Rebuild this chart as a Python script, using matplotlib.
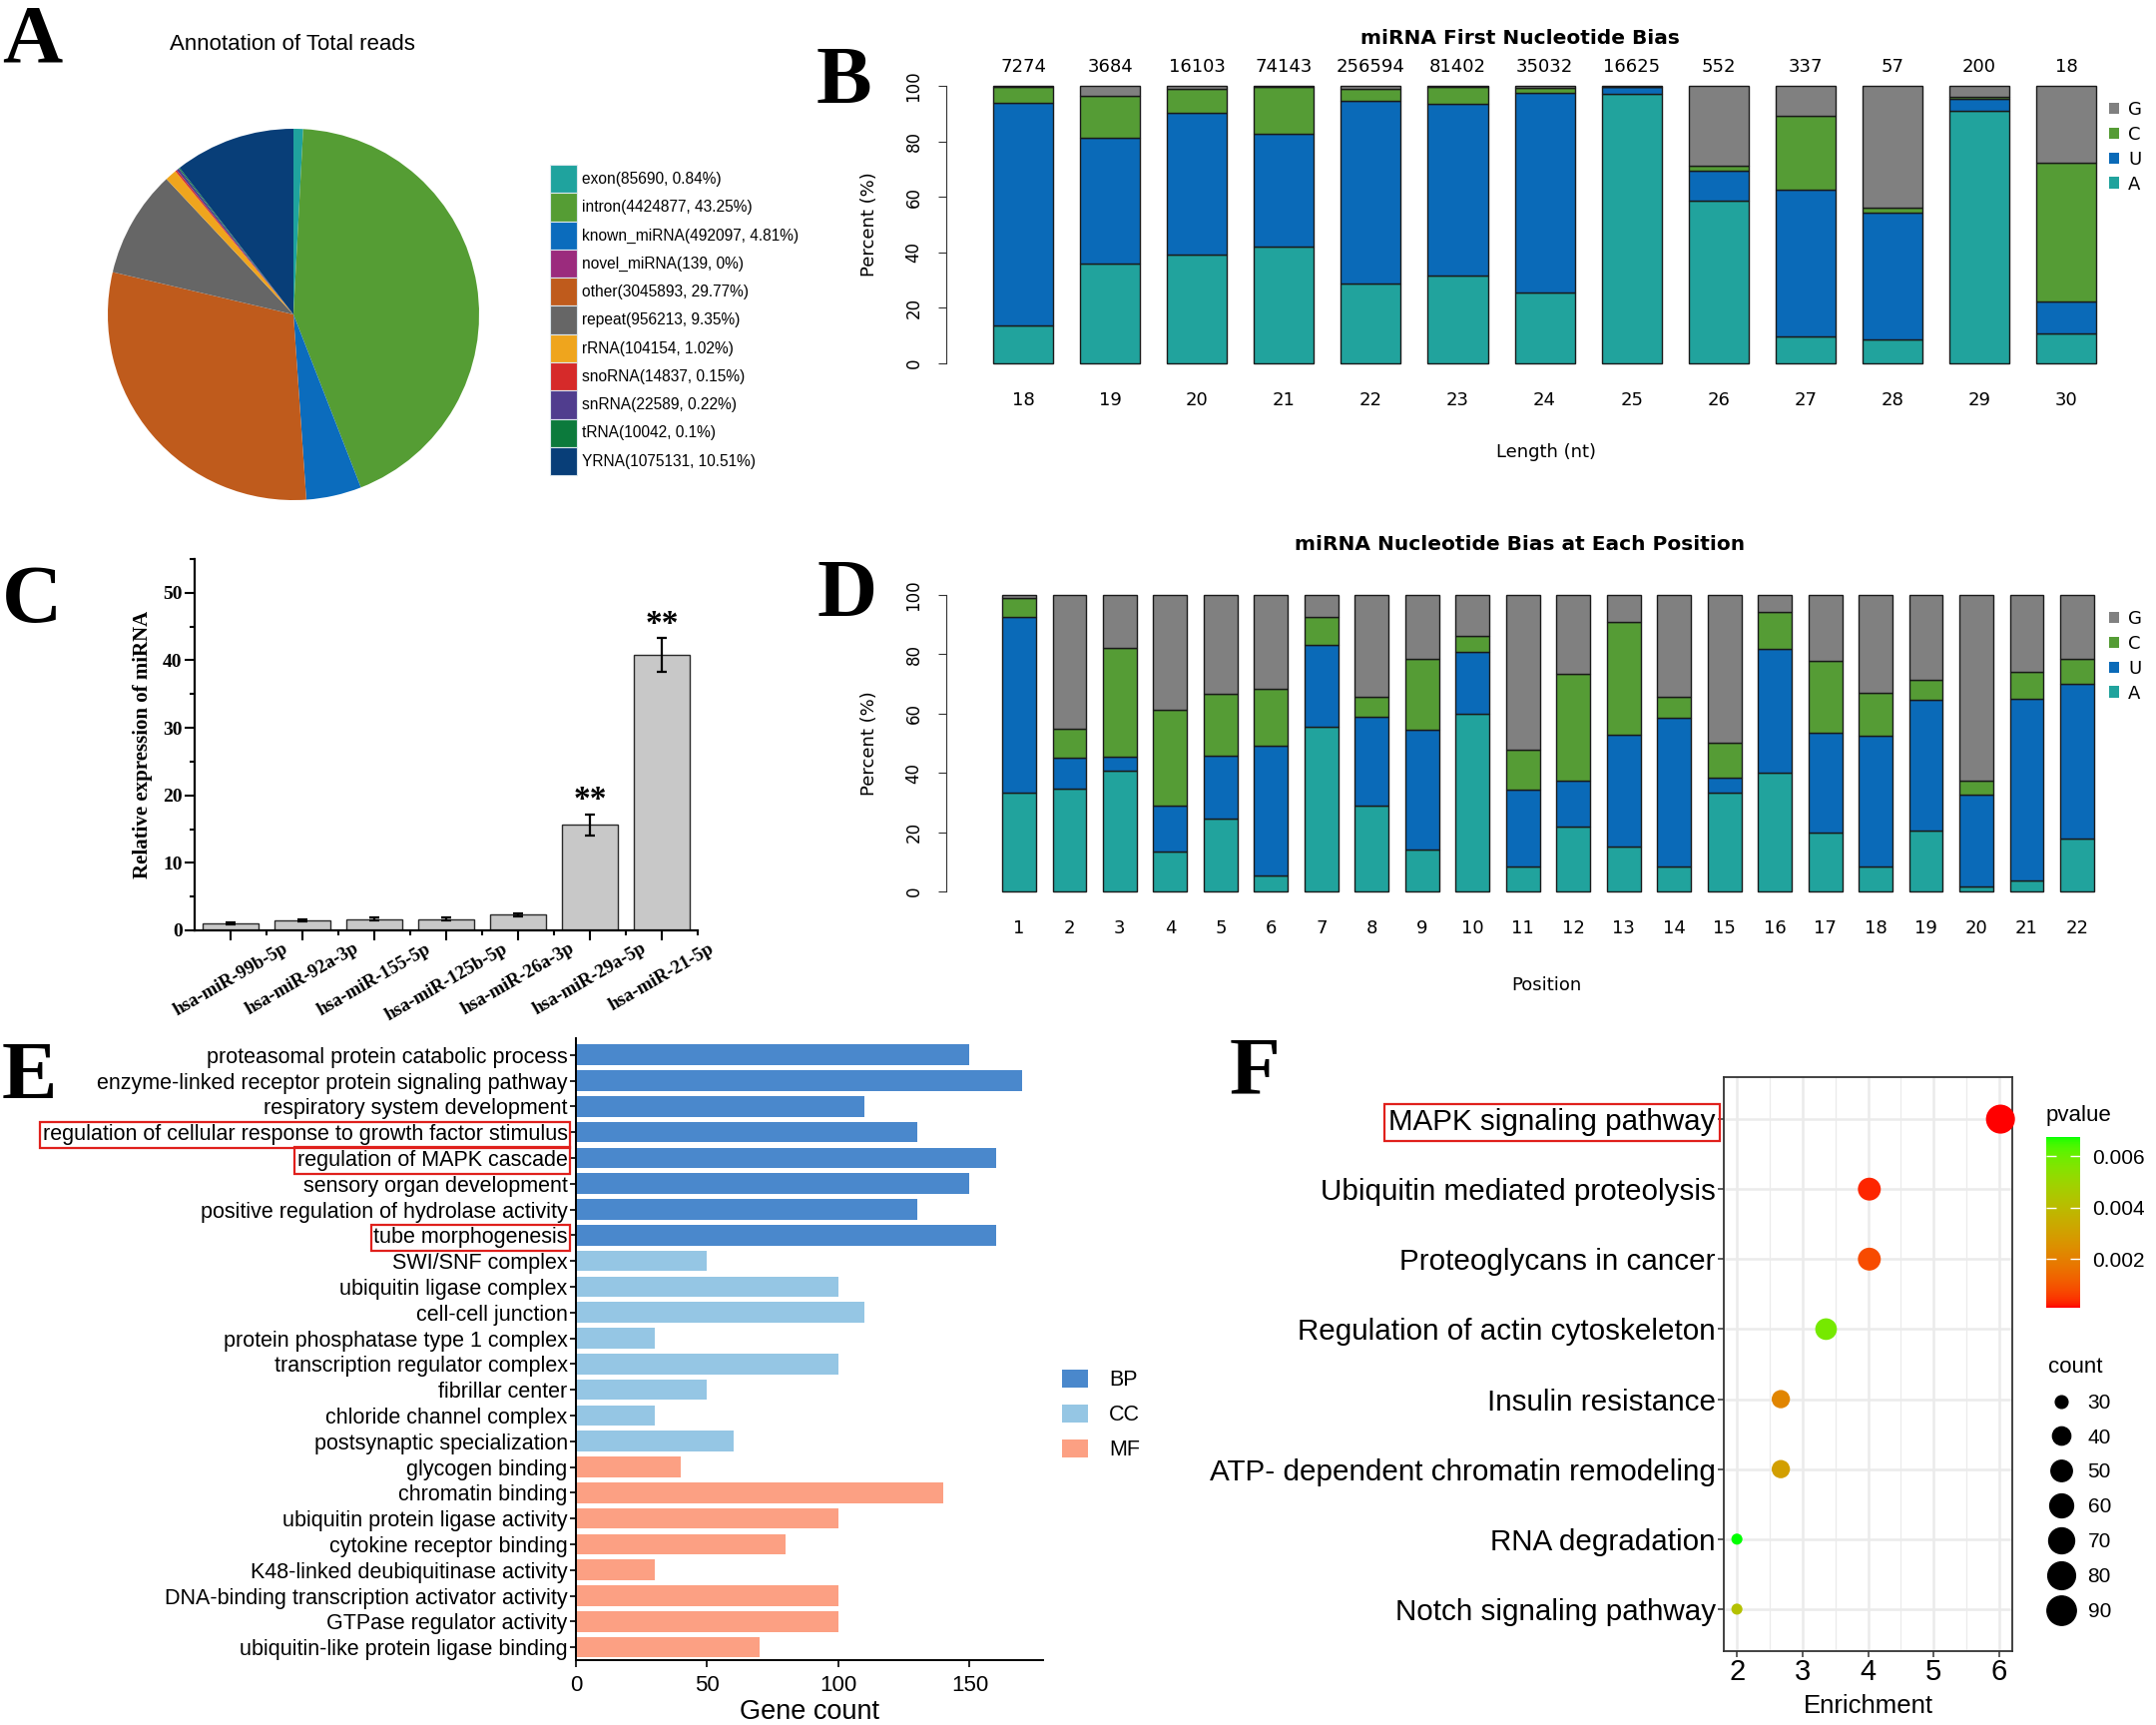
import numpy as np
import matplotlib
matplotlib.use('Agg')
import matplotlib.pyplot as plt
from matplotlib import transforms
from matplotlib.patches import Patch
from matplotlib.lines import Line2D
from matplotlib.colors import ListedColormap
from matplotlib.ticker import MultipleLocator

plt.rcParams['font.family'] = ['Liberation Sans', 'DejaVu Sans']

# ---------------- data ----------------
# Panel A
pie_labels = ['exon', 'intron', 'known_miRNA', 'novel_miRNA', 'other', 'repeat',
              'rRNA', 'snoRNA', 'snRNA', 'tRNA', 'YRNA']
pie_counts = [85690, 4424877, 492097, 139, 3045893, 956213, 104154, 14837, 22589, 10042, 1075131]
pie_pcts = ['0.84%', '43.25%', '4.81%', '0%', '29.77%', '9.35%', '1.02%', '0.15%', '0.22%', '0.1%', '10.51%']
pie_colors = ['#1fa39e', '#559d34', '#0b6cbd', '#9b2b7d', '#bf5b1c', '#666666',
              '#efa51d', '#d62a2a', '#503d8e', '#0c7a3c', '#083e78']

# Panel B
lengths = ['18', '19', '20', '21', '22', '23', '24', '25', '26', '27', '28', '29', '30']
length_counts = ['7274', '3684', '16103', '74143', '256594', '81402', '35032', '16625',
                 '552', '337', '57', '200', '18']
B_A = [13.8, 36.0, 39.3, 42.0, 28.9, 31.7, 25.5, 97.0, 58.8, 9.7, 8.7, 91.1, 10.9]
B_U = [80.0, 45.2, 50.9, 40.6, 65.6, 61.7, 72.1, 2.5, 10.8, 52.9, 45.6, 4.2, 11.3]
B_C = [5.7, 15.3, 8.6, 16.9, 4.3, 6.1, 1.8, 0.2, 1.8, 26.6, 1.7, 0.6, 50.0]
B_G = [0.5, 3.5, 1.2, 0.5, 1.2, 0.5, 0.6, 0.3, 28.6, 10.8, 44.0, 4.1, 27.8]

# Panel D
positions = [str(i) for i in range(1, 23)]
D_A = [33.5, 34.6, 40.8, 13.5, 24.7, 5.4, 55.6, 29.0, 14.2, 59.9, 8.5, 22.0, 15.2, 8.5,
       33.4, 40.2, 20.0, 8.5, 20.6, 1.7, 3.7, 17.8]
D_U = [59.0, 10.5, 4.5, 15.5, 21.1, 43.6, 27.5, 29.8, 40.3, 20.8, 25.8, 15.4, 37.6, 50.0,
       5.1, 41.6, 33.7, 44.1, 44.1, 30.9, 61.2, 52.2]
D_C = [6.4, 9.7, 36.7, 32.2, 20.8, 19.3, 9.4, 6.7, 23.9, 5.6, 13.6, 36.0, 38.0, 7.2,
       11.6, 12.4, 24.2, 14.3, 6.6, 4.8, 9.3, 8.4]
D_G = [1.1, 45.2, 18.0, 38.8, 33.4, 31.7, 7.5, 34.5, 21.6, 13.7, 52.1, 26.6, 9.2, 34.3,
       49.9, 5.8, 22.1, 33.1, 28.7, 62.6, 25.8, 21.6]
nuc_colors = {'A': '#21a39d', 'U': '#0a6ab8', 'C': '#559c35', 'G': '#808080'}

# Panel C
mirnas = ['hsa-miR-99b-5p', 'hsa-miR-92a-3p', 'hsa-miR-155-5p', 'hsa-miR-125b-5p',
          'hsa-miR-26a-3p', 'hsa-miR-29a-5p', 'hsa-miR-21-5p']
expr = [1.0, 1.5, 1.7, 1.7, 2.3, 15.6, 40.8]
expr_err = [0.15, 0.2, 0.2, 0.2, 0.2, 1.6, 2.5]
expr_sig = ['', '', '', '', '', '**', '**']

# Panel E
go_terms = ['proteasomal protein catabolic process',
            'enzyme-linked receptor protein signaling pathway',
            'respiratory system development',
            'regulation of cellular response to growth factor stimulus',
            'regulation of MAPK cascade',
            'sensory organ development',
            'positive regulation of hydrolase activity',
            'tube morphogenesis',
            'SWI/SNF complex',
            'ubiquitin ligase complex',
            'cell-cell junction',
            'protein phosphatase type 1 complex',
            'transcription regulator complex',
            'fibrillar center',
            'chloride channel complex',
            'postsynaptic specialization',
            'glycogen binding',
            'chromatin binding',
            'ubiquitin protein ligase activity',
            'cytokine receptor binding',
            'K48-linked deubiquitinase activity',
            'DNA-binding transcription activator activity',
            'GTPase regulator activity',
            'ubiquitin-like protein ligase binding']
go_counts = [150, 170, 110, 130, 160, 150, 130, 160,
             50, 100, 110, 30, 100, 50, 30, 60,
             40, 140, 100, 80, 30, 100, 100, 70]
go_cat = ['BP'] * 8 + ['CC'] * 8 + ['MF'] * 8
go_highlight = ['regulation of cellular response to growth factor stimulus',
                'regulation of MAPK cascade', 'tube morphogenesis']
cat_colors = {'BP': '#4a88cc', 'CC': '#95c6e4', 'MF': '#fca083'}

# Panel F
kegg_terms = ['MAPK signaling pathway', 'Ubiquitin mediated proteolysis',
              'Proteoglycans in cancer', 'Regulation of actin cytoskeleton',
              'Insulin resistance', 'ATP- dependent chromatin remodeling',
              'RNA degradation', 'Notch signaling pathway']
kegg_enrich = [6.02, 4.02, 4.02, 3.36, 2.67, 2.67, 2.0, 2.0]
kegg_count = [88, 56, 56, 51, 40, 40, 29, 29]
kegg_p = [0.0001, 0.0003, 0.0008, 0.0058, 0.0022, 0.0030, 0.00674, 0.0042]
count_breaks = [30, 40, 50, 60, 70, 80, 90]

# ---------------- helpers ----------------
W, H = 2160, 1728
fig = plt.figure(figsize=(W / 100, H / 100), dpi=100)
fig.patch.set_facecolor('white')


def pax(x0, y0, x1, y1):
    return fig.add_axes([x0 / W, 1 - y1 / H, (x1 - x0) / W, (y1 - y0) / H])


def ftext(x, y, s, **kw):
    return fig.text(x / W, 1 - y / H, s, **kw)


def letter(x, y, s):
    ftext(x, y, s, fontsize=60, fontweight='bold', family='Liberation Serif',
          ha='left', va='baseline')


# ---------------- Panel A ----------------
letter(2, 62, 'A')
ftext(293, 45, 'Annotation of Total reads', fontsize=16, ha='center', va='center')
axA = pax(108, 129, 480, 501)
axA.pie(pie_counts, colors=pie_colors, startangle=90, counterclock=False, radius=1,
        wedgeprops=dict(linewidth=0))
axA.set_xlim(-1, 1)
axA.set_ylim(-1, 1)
axA.set_aspect('equal')
handlesA = [Patch(facecolor=c, edgecolor='#dde8ee', linewidth=0.8) for c in pie_colors]
labelsA = [f'{l}({c}, {p})' for l, c, p in zip(pie_labels, pie_counts, pie_pcts)]
axA.legend(handlesA, labelsA, loc='upper left', bbox_to_anchor=(551 / W, 1 - 165 / H),
           bbox_transform=fig.transFigure, frameon=False, fontsize=11.2,
           handlelength=1.75, handleheight=2.42, labelspacing=0.0, handletextpad=0.3,
           borderpad=0, borderaxespad=0)


# ---------------- Panels B & D (stacked bars) ----------------
def stacked_panel(ax, cats, series, width, xlim, title_y, title, xlabel, ylab_y, xlab_y,
                  leg_top):
    x = np.arange(len(cats))
    bottom = np.zeros(len(cats))
    for key in ['A', 'U', 'C', 'G']:
        vals = np.array(series[key])
        ax.bar(x, vals, width, bottom=bottom, color=nuc_colors[key],
               edgecolor='#1a1a1a', linewidth=1.0, clip_on=False)
        bottom += vals
    ax.set_xlim(*xlim)
    ax.set_ylim(0, 100)
    for s in ['top', 'right', 'bottom']:
        ax.spines[s].set_visible(False)
    ax.spines['left'].set_bounds(0, 100)
    ax.spines['left'].set_color('#333333')
    ax.set_yticks([0, 20, 40, 60, 80, 100])
    ax.set_yticklabels(['0', '20', '40', '60', '80', '100'], rotation=90, va='center',
                       family='DejaVu Sans', fontsize=12)
    ax.tick_params(axis='y', length=6, pad=11, color='#333333')
    ax.set_xticks(x)
    ax.set_xticklabels(cats, family='DejaVu Sans', fontsize=13)
    ax.tick_params(axis='x', length=0, pad=20)
    ftext(1523, title_y, title, fontsize=14.5, fontweight='bold', family='DejaVu Sans',
          ha='center', va='center')
    ftext(1549, xlab_y, xlabel, fontsize=13, family='DejaVu Sans', ha='center', va='center')
    ftext(871, ylab_y, 'Percent (%)', fontsize=13, family='DejaVu Sans', ha='center',
          va='center', rotation=90)
    handles = [Patch(facecolor=nuc_colors[k], edgecolor='none') for k in ['G', 'C', 'U', 'A']]
    ax.legend(handles, ['G', 'C', 'U', 'A'], loc='upper left',
              bbox_to_anchor=(2113 / W, 1 - leg_top / H), bbox_transform=fig.transFigure,
              frameon=False, handlelength=0.55, handleheight=0.6, handletextpad=0.5,
              labelspacing=0.38, borderpad=0, borderaxespad=0,
              prop={'family': 'DejaVu Sans', 'size': 13})


letter(818, 103, 'B')
axB = pax(948, 86, 2105, 364)
stacked_panel(axB, lengths, {'A': B_A, 'U': B_U, 'C': B_C, 'G': B_G}, 0.69,
              (-0.885, 12.4), 38, 'miRNA First Nucleotide Bias', 'Length (nt)', 225, 453, 101)
trB = transforms.blended_transform_factory(axB.transData, axB.transAxes)
for i, c in enumerate(length_counts):
    axB.text(i, (364 - 67) / 278, c, transform=trB, ha='center', va='center',
             family='DejaVu Sans', fontsize=13)

letter(818, 617, 'D')
axD = pax(948, 596, 2105, 893)
stacked_panel(axD, positions, {'A': D_A, 'U': D_U, 'C': D_C, 'G': D_G}, 0.67,
              (-1.445, 21.475), 545, 'miRNA Nucleotide Bias at Each Position', 'Position',
              745, 987, 611)

# ---------------- Panel C ----------------
letter(2, 623, 'C')
axC = pax(195, 560, 699, 932)
xc = np.arange(len(mirnas))
axC.bar(xc, expr, 0.79, color='#c8c8c8', edgecolor='#2a2a2a', linewidth=1.0,
        yerr=expr_err, capsize=3.5,
        error_kw=dict(ecolor='black', elinewidth=1.6, capthick=1.6))
for i, (v, e, s) in enumerate(zip(expr, expr_err, expr_sig)):
    if s:
        axC.text(i, v + e + 0.8, s, ha='center', va='baseline', fontsize=24,
                 fontweight='bold', family='Liberation Serif')
axC.set_xlim(-0.5, 6.5)
axC.set_ylim(0, 55)
for s in ['top', 'right']:
    axC.spines[s].set_visible(False)
for s in ['left', 'bottom']:
    axC.spines[s].set_linewidth(1.6)
axC.yaxis.set_major_locator(MultipleLocator(10))
axC.yaxis.set_minor_locator(MultipleLocator(5))
axC.set_xticks(xc)
axC.set_xticks(np.arange(0.5, 7, 1), minor=True)
axC.tick_params(which='major', direction='out', length=7, width=1.5, pad=2)
axC.tick_params(which='minor', direction='out', length=3.5, width=1.5)
axC.set_xticklabels(mirnas, rotation=30, ha='center', va='top', fontsize=13.5,
                    fontweight='bold', family='Liberation Serif')
axC.tick_params(axis='x', which='major', pad=0)
for lab in axC.get_yticklabels():
    lab.set_fontsize(14)
    lab.set_fontweight('bold')
    lab.set_family('Liberation Serif')
ftext(143, 746, 'Relative expression of miRNA', rotation=90, ha='center', va='center',
      fontsize=15, fontweight='bold', family='Liberation Serif')

# ---------------- Panel E ----------------
letter(2, 1100, 'E')
axE = pax(577, 1040, 1045, 1663)
ye = np.arange(len(go_terms))
axE.barh(ye, go_counts, 0.8, color=[cat_colors[c] for c in go_cat])
axE.set_ylim(len(go_terms) - 0.5, -0.65)
axE.set_xlim(0, 178)
axE.set_yticks(ye)
axE.set_yticklabels(go_terms, fontsize=15.5)
axE.set_xticks([0, 50, 100, 150])
axE.tick_params(axis='y', length=4, pad=2, width=1.2)
axE.tick_params(axis='x', length=5, pad=6, width=1.2, labelsize=16)
for s in ['top', 'right']:
    axE.spines[s].set_visible(False)
for s in ['left', 'bottom']:
    axE.spines[s].set_linewidth(1.4)
for lab in axE.get_yticklabels():
    if lab.get_text() in go_highlight:
        lab.set_bbox(dict(boxstyle='square,pad=0.12', fc='none', ec='#e0201c', lw=1.6))
axE.set_xlabel('Gene count', fontsize=19.5, labelpad=2)
handlesE = [Patch(facecolor=cat_colors[k], edgecolor='none') for k in ['BP', 'CC', 'MF']]
fig.legend(handlesE, ['BP', 'CC', 'MF'], loc='upper left',
           bbox_to_anchor=(1064 / W, 1 - 1372 / H), frameon=False, fontsize=15.5,
           handlelength=1.2, handleheight=0.88, handletextpad=1.0, labelspacing=0.64,
           borderpad=0, borderaxespad=0)


# ---------------- Panel F ----------------
def _lab_cmap(c0, c1, n=256):
    M = np.array([[0.4124564, 0.3575761, 0.1804375],
                  [0.2126729, 0.7151522, 0.0721750],
                  [0.0193339, 0.1191920, 0.9503041]])
    white = np.array([0.95047, 1.0, 1.08883])
    d = 6 / 29

    def to_lab(rgb):
        rgb = np.asarray(rgb, float)
        lin = np.where(rgb <= 0.04045, rgb / 12.92, ((rgb + 0.055) / 1.055) ** 2.4)
        t = (M @ lin) / white
        f = np.where(t > d ** 3, np.cbrt(t), t / (3 * d * d) + 4 / 29)
        return np.array([116 * f[1] - 16, 500 * (f[0] - f[1]), 200 * (f[1] - f[2])])

    def to_rgb(lab):
        L, a, b = lab
        fy = (L + 16) / 116
        f = np.array([fy + a / 500, fy, fy - b / 200])
        t = np.where(f > d, f ** 3, 3 * d * d * (f - 4 / 29))
        lin = np.clip(np.linalg.inv(M) @ (t * white), 0, 1)
        rgb = np.where(lin <= 0.0031308, 12.92 * lin, 1.055 * lin ** (1 / 2.4) - 0.055)
        return np.clip(rgb, 0, 1)

    l0, l1 = to_lab(c0), to_lab(c1)
    cols = [to_rgb(l0 + (l1 - l0) * t) for t in np.linspace(0, 1, n)]
    return ListedColormap(cols)


cmapF = _lab_cmap([1, 0, 0], [0, 1, 0])


def size_px(c):
    return 10 + np.sqrt(6.15 * (np.asarray(c, float) - 28.8).clip(0))


def size_area(c):
    return (size_px(c) * 0.72) ** 2


letter(1232, 1095, 'F')
axF = pax(1727, 1079, 2016, 1654)
yf = np.arange(len(kegg_terms))
axF.set_xlim(1.8, 6.2)
axF.set_ylim(len(kegg_terms) - 0.4, -0.6)
axF.set_xticks([2, 3, 4, 5, 6])
axF.set_xticks([2.5, 3.5, 4.5, 5.5], minor=True)
axF.set_yticks(yf)
axF.set_yticklabels(kegg_terms, fontsize=21.3)
axF.grid(which='major', color='#ebebeb', lw=1.8)
axF.grid(which='minor', axis='x', color='#ebebeb', lw=0.9)
axF.set_axisbelow(True)
scF = axF.scatter(kegg_enrich, yf, s=size_area(kegg_count), c=kegg_p, cmap=cmapF,
                  vmin=min(kegg_p), vmax=max(kegg_p), edgecolors='none', zorder=3,
                  clip_on=False)
for s in axF.spines.values():
    s.set_color('#333333')
    s.set_linewidth(1.3)
axF.tick_params(which='major', length=4, color='#333333', width=1.1, pad=2)
axF.tick_params(which='minor', length=0)
axF.tick_params(axis='x', labelsize=21, pad=1)
axF.set_xlabel('Enrichment', fontsize=18.5, labelpad=6)
for lab in axF.get_yticklabels():
    if lab.get_text() == 'MAPK signaling pathway':
        lab.set_bbox(dict(boxstyle='square,pad=0.15', fc='none', ec='#e0201c', lw=1.6))

cax = pax(2050, 1139, 2084, 1310)
cb = fig.colorbar(scF, cax=cax)
cb.set_ticks([0.002, 0.004, 0.006])
cb.set_ticklabels(['0.002', '0.004', '0.006'])
cb.outline.set_visible(False)
cax.tick_params(direction='in', length=7, color='white', width=1, left=True, right=True,
                labelsize=15, pad=9)
ftext(2050, 1117, 'pvalue', fontsize=16, ha='left', va='center')

handlesF = [Line2D([], [], linestyle='none', marker='o', color='black',
                   markersize=size_px(b) * 0.72) for b in count_breaks]
legF = axF.legend(handlesF, [str(b) for b in count_breaks], title='count', loc='upper left',
                  bbox_to_anchor=(2052 / W, 1 - 1359 / H), bbox_transform=fig.transFigure,
                  frameon=False, fontsize=15, title_fontsize=16, alignment='left',
                  handlelength=1.2, handletextpad=0.7, labelspacing=0.76,
                  borderpad=0, borderaxespad=0)

fig.savefig('out.png', dpi=100, facecolor='white')
